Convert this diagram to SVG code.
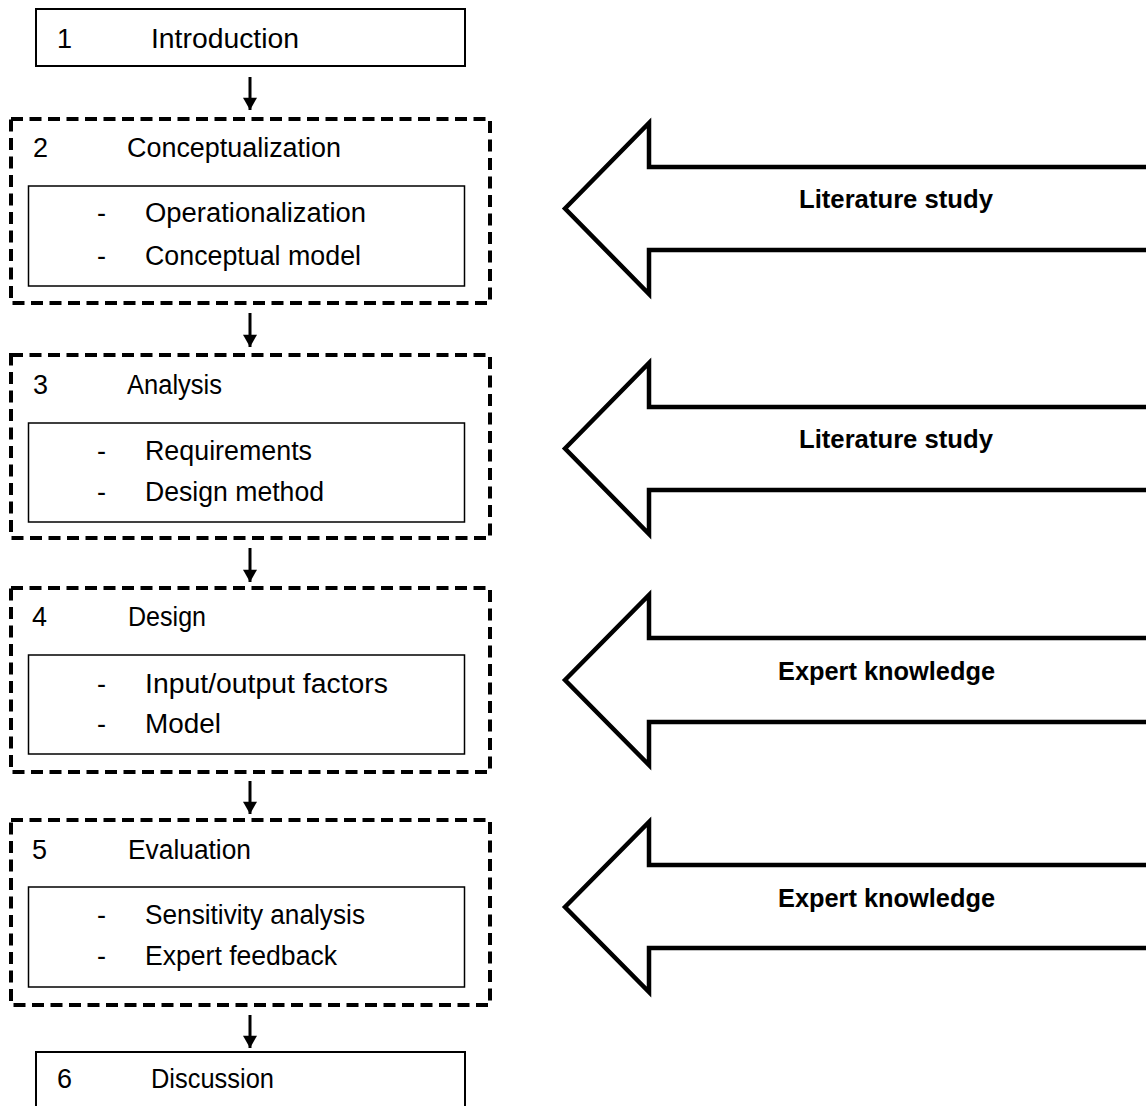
<svg xmlns="http://www.w3.org/2000/svg" width="1146" height="1106" viewBox="0 0 1146 1106">
<style>
text { font-family: "Liberation Sans", Arial, sans-serif; font-size: 27px; fill: #000; }
.b { font-weight: bold; font-size: 26px; }
.solid { fill: #fff; stroke: #000; stroke-width: 2; }
.inner { fill: none; stroke: #000; stroke-width: 1.5; }
.dash { fill: none; stroke: #000; stroke-width: 4; stroke-dasharray: 12 6.5; }
.big { fill: #fff; stroke: #000; stroke-width: 4.5; stroke-linejoin: miter; }
.conn { stroke: #000; stroke-width: 3; fill: none; }
</style>
<defs>
<marker id="ah" markerUnits="userSpaceOnUse" markerWidth="16" markerHeight="14" refX="14" refY="8" orient="auto" viewBox="0 0 14 16">
<path d="M0,0 L14,8 L0,16 Z" fill="#000"/>
</marker>
</defs>
<rect width="1146" height="1106" fill="#fff"/>

<g id="node1">
<rect class="solid" x="36" y="9" width="429" height="57"/>
<text x="57" y="48">1</text>
<text x="151" y="48" textLength="148" lengthAdjust="spacingAndGlyphs">Introduction</text>
</g>

<g id="node2">
<rect class="dash" x="11" y="119" width="479" height="184"/>
<text x="33" y="157">2</text>
<text x="127" y="157" textLength="214" lengthAdjust="spacingAndGlyphs">Conceptualization</text>
<rect class="inner" x="28.5" y="186" width="436" height="100"/>
<text x="97" y="222">-</text>
<text x="145" y="222" textLength="221" lengthAdjust="spacingAndGlyphs">Operationalization</text>
<text x="97" y="265">-</text>
<text x="145" y="265" textLength="216" lengthAdjust="spacingAndGlyphs">Conceptual model</text>
</g>

<g id="node3">
<rect class="dash" x="11" y="355" width="479" height="183"/>
<text x="33" y="394">3</text>
<text x="127" y="394" textLength="95" lengthAdjust="spacingAndGlyphs">Analysis</text>
<rect class="inner" x="28.5" y="423" width="436" height="99"/>
<text x="97" y="460">-</text>
<text x="145" y="460" textLength="167" lengthAdjust="spacingAndGlyphs">Requirements</text>
<text x="97" y="501">-</text>
<text x="145" y="501" textLength="179" lengthAdjust="spacingAndGlyphs">Design method</text>
</g>

<g id="node4">
<rect class="dash" x="11" y="588" width="479" height="184"/>
<text x="32" y="626">4</text>
<text x="128" y="626" textLength="78" lengthAdjust="spacingAndGlyphs">Design</text>
<rect class="inner" x="28.5" y="655" width="436" height="99"/>
<text x="97" y="693">-</text>
<text x="145" y="693" textLength="243" lengthAdjust="spacingAndGlyphs">Input/output factors</text>
<text x="97" y="733">-</text>
<text x="145" y="733" textLength="76" lengthAdjust="spacingAndGlyphs">Model</text>
</g>

<g id="node5">
<rect class="dash" x="11" y="820" width="479" height="185"/>
<text x="32" y="859">5</text>
<text x="128" y="859" textLength="123" lengthAdjust="spacingAndGlyphs">Evaluation</text>
<rect class="inner" x="28.5" y="887" width="436" height="100"/>
<text x="97" y="924">-</text>
<text x="145" y="924" textLength="220" lengthAdjust="spacingAndGlyphs">Sensitivity analysis</text>
<text x="97" y="965">-</text>
<text x="145" y="965" textLength="192" lengthAdjust="spacingAndGlyphs">Expert feedback</text>
</g>

<g id="node6">
<rect class="solid" x="36" y="1052" width="429" height="70"/>
<text x="57" y="1088">6</text>
<text x="151" y="1088" textLength="123" lengthAdjust="spacingAndGlyphs">Discussion</text>
</g>

<g id="source1">
<polygon class="big" points="565,208.5 649,123 649,167 1152,167 1152,250 649,250 649,294"/>
<text class="b" x="799" y="208" textLength="194" lengthAdjust="spacingAndGlyphs">Literature study</text>
</g>
<g id="source2">
<polygon class="big" points="565,448.5 649,363 649,407 1152,407 1152,490 649,490 649,534"/>
<text class="b" x="799" y="448" textLength="194" lengthAdjust="spacingAndGlyphs">Literature study</text>
</g>
<g id="source3">
<polygon class="big" points="565,680 649,595 649,638 1152,638 1152,722 649,722 649,765"/>
<text class="b" x="778" y="680" textLength="217" lengthAdjust="spacingAndGlyphs">Expert knowledge</text>
</g>
<g id="source4">
<polygon class="big" points="565,907 649,822 649,865 1152,865 1152,948 649,948 649,992"/>
<text class="b" x="778" y="907" textLength="217" lengthAdjust="spacingAndGlyphs">Expert knowledge</text>
</g>

<g id="connectors">
<line class="conn" x1="250" y1="77" x2="250" y2="110" marker-end="url(#ah)"/>
<line class="conn" x1="250" y1="313" x2="250" y2="347" marker-end="url(#ah)"/>
<line class="conn" x1="250" y1="548" x2="250" y2="582" marker-end="url(#ah)"/>
<line class="conn" x1="250" y1="781" x2="250" y2="814" marker-end="url(#ah)"/>
<line class="conn" x1="250" y1="1015" x2="250" y2="1048" marker-end="url(#ah)"/>
</g>
</svg>
